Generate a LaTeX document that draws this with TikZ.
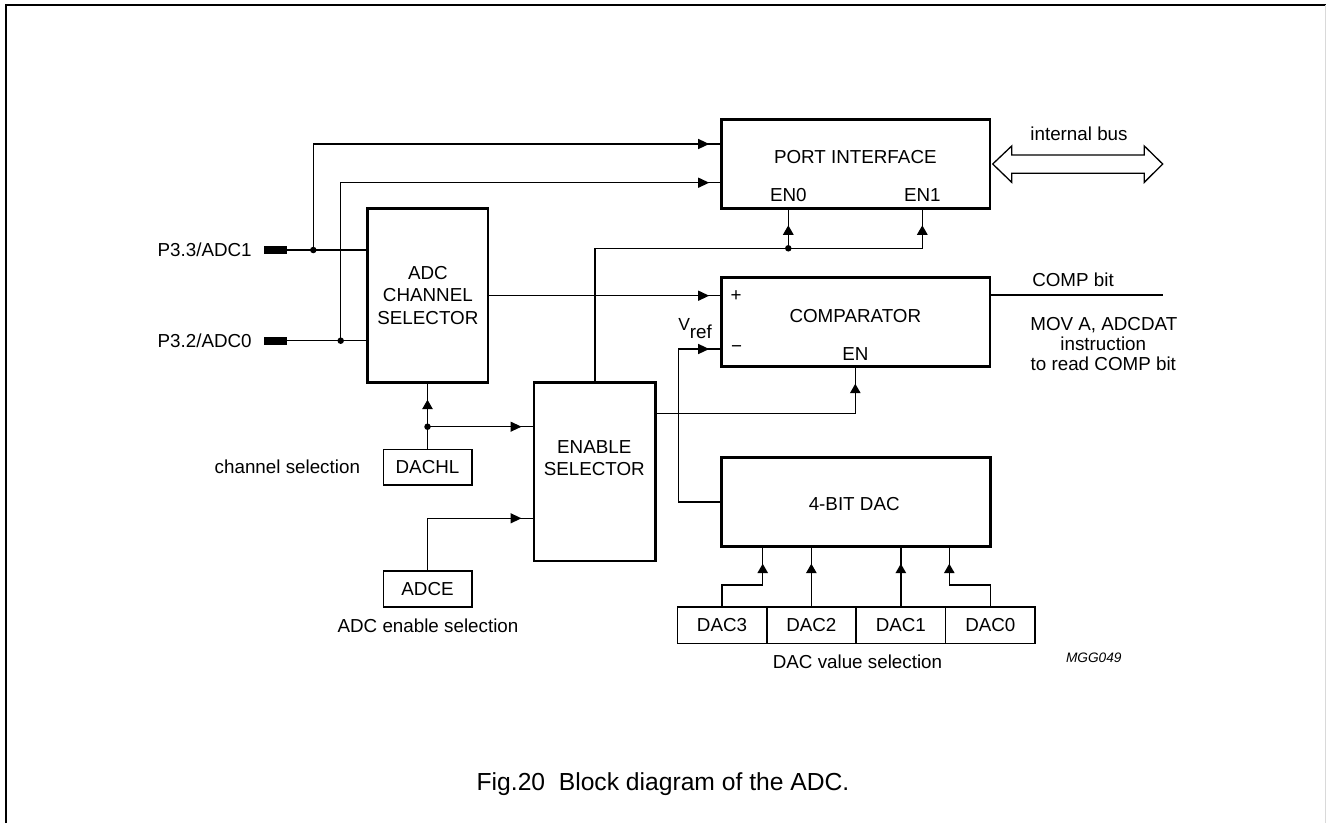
\documentclass[tikz,border=0pt]{standalone}
\usepackage{fontspec}
\setmainfont{Liberation Sans}
\usetikzlibrary{arrows.meta,decorations.markings,calc}
\begin{document}
\begin{tikzpicture}[x=1pt,y=-1pt,
  txt/.style={inner sep=0pt, outer sep=0pt, font=\fontsize{18.8}{22.7}\selectfont},
  bigbox/.style={draw, line width=2.8pt, inner sep=0pt, outer sep=0pt, align=center, font=\fontsize{18.8}{22.7}\selectfont},
  smallbox/.style={draw, line width=1.6pt, inner sep=0pt, outer sep=0pt, font=\fontsize{18.8}{22.7}\selectfont},
  wire/.style={line width=1.3pt},
  harrow/.style={wire, postaction={decorate}, decoration={markings, mark=at position -12.5pt with {\arrow{Triangle[length=11pt,width=10pt]}}}},
  varrow/.style={wire, postaction={decorate}, decoration={markings, mark=at position -17pt with {\arrow{Triangle[length=9.5pt,width=10.5pt]}}}},
  dot/.style={circle, fill, inner sep=0pt, minimum size=6.5pt},
  pinbox/.style={fill, inner sep=0pt, outer sep=0pt, minimum width=23pt, minimum height=8pt},
]
\useasboundingbox (0,0) rectangle (1326,823);
% frame
\draw[line width=2.2pt] (6,823) -- (6,5) -- (1326,5);
\draw[black!15, line width=1pt] (1325,5) -- (1325,823);

% blocks
\node[bigbox, minimum width=120.3pt, minimum height=174.4pt] (chsel) at (427.85,295.5) {ADC\\CHANNEL\\SELECTOR};
\node[bigbox, minimum width=268.3pt, minimum height=89pt] (port) at (855.85,163.8) {};
\node[txt, anchor=base] (porttxt) at (855.3,163.3) {PORT INTERFACE};
\node[txt, anchor=base] (en0) at (788.3,201.7) {EN0};
\node[txt, anchor=base] (en1) at (922.3,201.7) {EN1};

\node[bigbox, minimum width=268.3pt, minimum height=89pt] (comp) at (855.85,322.2) {};
\node[txt, anchor=base] (comptxt) at (855.3,322.3) {COMPARATOR};
\node[txt] (plus) at (736,296) {+};
\node[txt] (minus) at (736.7,349) {−};
\node[txt, anchor=base] (encomp) at (855.3,360) {EN};
\node[txt, anchor=base west] (vref) at (678.3,330.7) {{\fontsize{17.5}{20}\selectfont V}\raisebox{-7.6pt}{ref}};

\node[bigbox, minimum width=121.7pt, minimum height=178.7pt] (ensel) at (594.85,471.65) {};
\node[txt, align=center, font=\fontsize{18.8}{22.4}\selectfont] (enseltxt) at (594.3,458.3) {ENABLE\\SELECTOR};

\node[bigbox, minimum width=269pt, minimum height=89.4pt] (dac) at (856.2,502) {};
\node[txt, anchor=base] (dactxt) at (854.2,510.7) {4-BIT DAC};

\node[smallbox, minimum width=88.4pt, minimum height=35.7pt] (dachl) at (427.5,467.15) {DACHL};
\node[smallbox, minimum width=88.4pt, minimum height=35.7pt] (adce) at (427.5,588.85) {ADCE};

\node[smallbox, minimum width=89.4pt, minimum height=36.6pt] (dac3) at (722,625) {DAC3};
\node[smallbox, minimum width=89.4pt, minimum height=36.6pt] (dac2) at (811.35,625) {DAC2};
\node[smallbox, minimum width=89.4pt, minimum height=36.6pt] (dac1) at (900.85,625) {DAC1};
\node[smallbox, minimum width=89.4pt, minimum height=36.6pt] (dac0) at (990.35,625) {DAC0};

% pins
\node[pinbox] (pin1) at (275.8,250) {};
\node[pinbox] (pin0) at (275.8,340.7) {};
\node[txt, anchor=base east] (lab1) at (251.7,256.5) {P3.3/ADC1};
\node[txt, anchor=base east] (lab0) at (251.7,347.3) {P3.2/ADC0};

% junctions
\coordinate (j1) at (313.3,250);
\coordinate (j0) at (340.7,340.7);
\coordinate (jen) at (788.3,248.3);
\coordinate (jd) at (427.5,426.7);

% wires
\draw[wire] (pin1.east) -- (chsel.west |- pin1.east);
\draw[wire] (pin0.east) -- (chsel.west |- pin0.east);
\draw[harrow] (j1) |- (port.west |- 0,144);
\draw[harrow] (j0) |- (port.west |- 0,182.7);
\draw[harrow] (chsel.east |- 0,295.7) -- (comp.west |- 0,295.7);
\draw[varrow] (ensel.north) |- (922.3,248.3) -- (port.south -| en1);
\draw[varrow] (jen) -- (port.south -| en0);
\draw[varrow] (ensel.east |- 0,413.3) -| (comp.south -| encomp);
\draw[harrow] (dac.west) -| (678.3,349) -- (comp.west |- 0,349);
\draw[varrow] (dachl.north) -- (chsel.south -| dachl.north);
\draw[harrow] (jd) -- (ensel.west |- jd);
\draw[harrow] (adce.north) |- (ensel.west |- 0,518.3);
\draw[varrow] (dac3.north) |- (762.7,585) -- (dac.south -| 762.7,0);
\draw[varrow] (dac2.north) -- (dac.south -| dac2.north);
\draw[varrow] (dac1.north) -- (dac.south -| dac1.north);
\draw[varrow] (dac0.north) |- (949.3,585) -- (dac.south -| 949.3,0);
\coordinate (compout) at (1162.7,295);
\draw[wire] (comp.east |- compout) -- (compout);

\node[dot] (d1) at (j1) {};
\node[dot] (d0) at (j0) {};
\node[dot] (den) at (jen) {};
\node[dot] (dd) at (jd) {};

% internal bus double arrow
\draw[wire, fill=white] (992.7,164) -- (1011.7,146) -- (1011.7,155) -- (1144.3,155) -- (1144.3,146) -- (1162.7,164) -- (1144.3,182.3) -- (1144.3,173.3) -- (1011.7,173.3) -- (1011.7,182.3) -- cycle;

% labels
\node[txt, anchor=base] (busl) at (1079,140.7) {internal bus};
\node[txt, anchor=base] (compbit) at (1073,286) {COMP bit};
\node[txt, anchor=base] (mov1) at (1103.8,330) {MOV A, ADCDAT};
\node[txt, anchor=base] (mov2) at (1103.3,350.7) {instruction};
\node[txt, anchor=base] (mov3) at (1103.3,370) {to read COMP bit};
\node[txt, anchor=base east] (chl) at (360,473.3) {channel selection};
\node[txt, anchor=base] (enl) at (428,632.7) {ADC enable selection};
\node[txt, anchor=base] (dvl) at (857.5,668.3) {DAC value selection};
\node[txt, anchor=base, font=\fontsize{13.7}{16}\selectfont\itshape] (mgg) at (1093.8,662.7) {MGG049};
\node[txt, anchor=base, font=\fontsize{24.65}{28}\selectfont] (caption) at (663,790) {Fig.20\ \ Block diagram of the ADC.};
\end{tikzpicture}
\end{document}
